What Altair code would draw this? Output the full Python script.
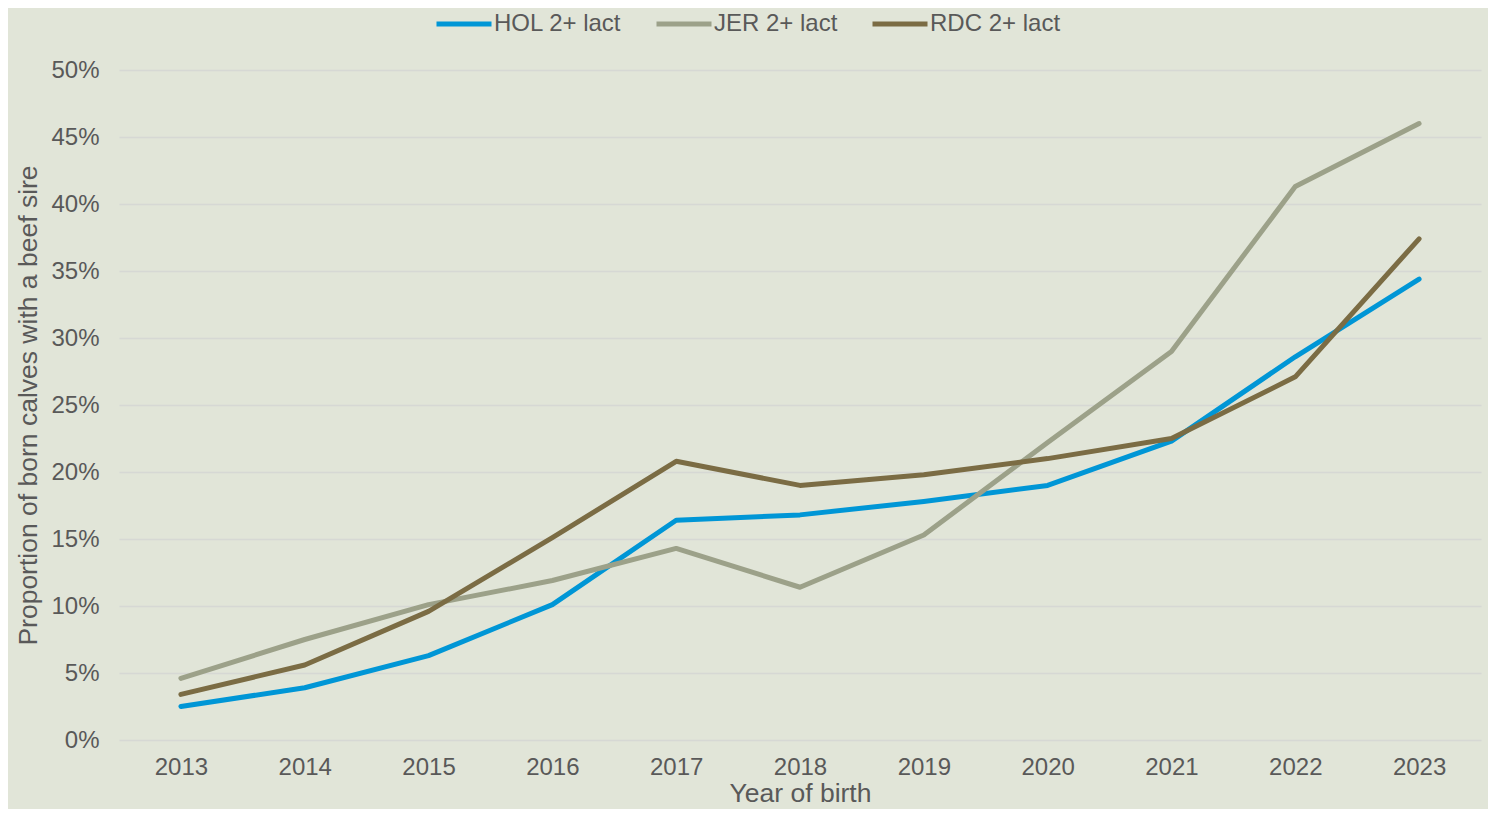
import altair as alt
import pandas as pd

years = ["2013", "2014", "2015", "2016", "2017", "2018", "2019", "2020", "2021", "2022", "2023"]
hol = [0.025, 0.039, 0.063, 0.101, 0.164, 0.168, 0.178, 0.190, 0.223, 0.286, 0.344]
jer = [0.046, 0.075, 0.101, 0.119, 0.143, 0.114, 0.153, 0.222, 0.290, 0.413, 0.460]
rdc = [0.034, 0.056, 0.096, 0.151, 0.208, 0.190, 0.198, 0.210, 0.225, 0.271, 0.374]
series_names = ["HOL 2+ lact", "JER 2+ lact", "RDC 2+ lact"]
series_colors = ["#0096D6", "#9CA189", "#7B6C44"]

rows = []
for name, vals in zip(series_names, [hol, jer, rdc]):
    for y, v in zip(years, vals):
        rows.append({"Year": y, "Value": v, "Series": name})
df = pd.DataFrame(rows)

text_color = "#595959"
font = "Liberation Sans"

chart = alt.Chart(df).mark_line(strokeWidth=5, strokeCap="round", strokeJoin="round").encode(
    x=alt.X("Year:O", sort=years, title="Year of birth",
            axis=alt.Axis(labelAngle=0, labelFontSize=24, titleFontSize=26.5, labelPadding=15,
                          titlePadding=1, ticks=False, domain=False, grid=False,
                          labelColor=text_color, titleColor=text_color,
                          labelFont=font, titleFont=font, titleFontWeight="normal")),
    y=alt.Y("Value:Q", title="Proportion of born calves with a beef sire",
            scale=alt.Scale(domain=[0, 0.5], nice=False),
            axis=alt.Axis(format=".0%", values=[i * 0.05 for i in range(11)],
                          labelFontSize=24, titleFontSize=26.5, labelPadding=20, titlePadding=8,
                          ticks=False, domain=False, gridColor="#D6D8D4", gridWidth=1.5,
                          labelColor=text_color, titleColor=text_color,
                          labelFont=font, titleFont=font, titleFontWeight="normal")),
    color=alt.Color("Series:N", scale=alt.Scale(domain=series_names, range=series_colors),
                    legend=alt.Legend(title=None, orient="none", direction="horizontal",
                                      legendX=315, legendY=-76,
                                      symbolType="stroke", symbolSize=3025, symbolStrokeWidth=5,
                                      labelFontSize=24, labelColor=text_color, labelFont=font,
                                      labelOffset=0, columnPadding=24)),
).properties(
    width=1362, height=670,
    background="#E1E5D8",
    padding={"left": 111, "top": 62, "right": 7, "bottom": 69},
    autosize=alt.AutoSizeParams(type="none"),
).configure_view(stroke=None)

chart.save("out.html", embed_options={"renderer": "svg", "actions": False})
